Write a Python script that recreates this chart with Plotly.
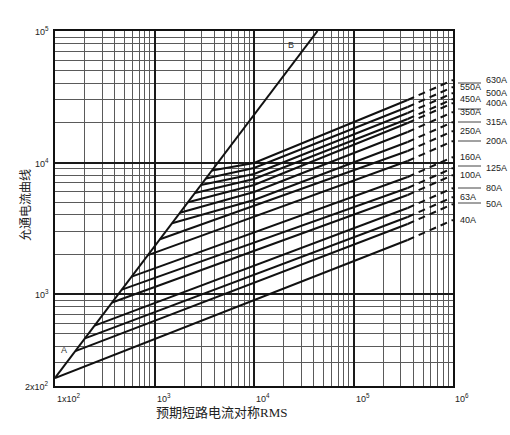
import numpy as np
import plotly.graph_objects as go

# ---------------- data ----------------
ratings = ["40A", "50A", "63A", "80A", "100A", "125A", "160A", "200A",
           "250A", "315A", "350A", "400A", "450A", "500A", "550A", "630A"]
# start point of each fuse curve on line A-B (prospective current, let-through peak)
start_x = [100, 160, 200, 250, 375, 470, 590, 860,
           1135, 1500, 1800, 2170, 2550, 2930, 3290, 3780]
start_y = [230, 368, 460, 575, 862, 1081, 1357, 1978,
           2610, 3450, 4147, 4996, 5872, 6741, 7574, 8700]
# let-through value read at 10 kA for the larger ratings (knee); None = straight
knee_x = 10000
knee_y = [None, None, None, None, None, None, None, None,
          None, 5185, 5967, 6745, 7490, 8177, 9083, 9910]
# end of solid part
solid_end_x = 350000
solid_end_y = [2577, 3408, 3856, 4511, 5665, 6404, 7762, 10272,
               12239, 14326, 17068, 19987, 21432, 23815, 26452, 29899]
# end of dashed extrapolation
dash_end_x = 1000000
dash_end_y = [3655, 4834, 5470, 6398, 8035, 9083, 11010, 14570,
              17360, 20320, 24210, 28350, 30400, 33780, 37520, 42410]

# line A-B (unlimited peak)
line_ab_x = [100, 43500]
line_ab_y = [230, 100000]

x_major = [100, 1000, 10000, 100000, 1000000]
x_major_text = ["1x10<sup>2</sup>", "10<sup>3</sup>", "10<sup>4</sup>", "10<sup>5</sup>", "10<sup>6</sup>"]
y_major = [200, 1000, 10000, 100000]
y_major_text = ["2x10<sup>2</sup>", "10<sup>3</sup>", "10<sup>4</sup>", "10<sup>5</sup>"]

# label layout at right: (rating, pixel y)
left_col = [("550A", 87), ("450A", 99), ("350A", 112), ("250A", 131),
            ("160A", 157), ("100A", 175), ("63A", 197), ("40A", 220)]
right_col = [("630A", 80), ("500A", 93), ("400A", 103), ("315A", 122),
             ("200A", 141), ("125A", 168), ("80A", 188), ("50A", 204)]
leader_y = [83, 109, 122, 141, 166, 188, 203]

# ---------------- figure ----------------
L, R, T, B = 55, 453, 31, 386
W, H = 510, 435
pw, ph = R - L, B - T

def px(xp):
    return (xp - L) / pw

def py(yp):
    return (B - yp) / ph

fig = go.Figure()

LINE = dict(color="#111111", width=2)
for i, r in enumerate(ratings):
    xs = [start_x[i]] + ([knee_x] if knee_y[i] else []) + [solid_end_x]
    ys = [start_y[i]] + ([knee_y[i]] if knee_y[i] else []) + [solid_end_y[i]]
    fig.add_trace(go.Scatter(x=xs, y=ys, mode="lines", line=LINE, showlegend=False, name=r))
    fig.add_trace(go.Scatter(x=[solid_end_x, dash_end_x], y=[solid_end_y[i], dash_end_y[i]],
                             mode="lines", line=dict(color="#111111", width=2, dash="7px,5px"),
                             showlegend=False, name=r))

fig.add_trace(go.Scatter(x=line_ab_x, y=line_ab_y, mode="lines", line=LINE, showlegend=False))

x_minor = [m * 10 ** d for d in range(2, 6) for m in range(2, 10)]
y_minor = [m * 10 ** d for d in range(2, 5) for m in range(1, 10) if m * 10 ** d > 200]

axis_common = dict(showline=True, linecolor="#111111", linewidth=1.5, mirror=True,
                   showgrid=True, gridcolor="#1a1a1a", gridwidth=1.6,
                   ticks="", showticklabels=False, zeroline=False)

fig.update_xaxes(type="log", range=[2, 6], tickmode="array", tickvals=x_major,
                 minor=dict(tickmode="array", tickvals=x_minor, showgrid=True,
                            gridcolor="#5a5a5a", gridwidth=1, ticks=""),
                 **axis_common)
fig.update_yaxes(type="log", range=[np.log10(200), 5], tickmode="array", tickvals=y_major,
                 minor=dict(tickmode="array", tickvals=y_minor, showgrid=True,
                            gridcolor="#5a5a5a", gridwidth=1, ticks=""),
                 **axis_common)

TF = dict(family="Liberation Sans, Arial", size=9, color="#222222")
ann = []
for v, t in zip(x_major, x_major_text):
    ann.append(dict(x=np.log10(v), xref="x", y=py(398), yref="paper", text=t,
                    showarrow=False, xanchor="left", yanchor="middle", font=TF))
for v, t in zip(y_major, y_major_text):
    ann.append(dict(x=px(51), xref="paper", y=np.log10(v), yref="y", text=t,
                    showarrow=False, xanchor="right", yanchor="middle", font=TF))

LF = dict(family="Liberation Sans, Arial", size=9, color="#222222")
for t, yy in left_col:
    ann.append(dict(x=px(458), xref="paper", y=py(yy), yref="paper", text=t,
                    showarrow=False, xanchor="left", yanchor="middle", font=LF))
for t, yy in right_col:
    ann.append(dict(x=px(484), xref="paper", y=py(yy), yref="paper", text=t,
                    showarrow=False, xanchor="left", yanchor="middle", font=LF))

ann.append(dict(x=px(64), xref="paper", y=py(350), yref="paper", text="A",
                showarrow=False, xanchor="center", yanchor="middle",
                font=dict(family="Liberation Sans", size=9, color="#333")))
ann.append(dict(x=px(291), xref="paper", y=py(45), yref="paper", text="B",
                showarrow=False, xanchor="center", yanchor="middle",
                font=dict(family="Liberation Sans", size=9, color="#333")))

ann.append(dict(x=px(221), xref="paper", y=py(413), yref="paper", text="预期短路电流对称RMS",
                showarrow=False, xanchor="center", yanchor="middle",
                font=dict(family="Liberation Serif, Noto Sans CJK SC", size=13, color="#222")))
ann.append(dict(x=px(24), xref="paper", y=py(205), yref="paper", text="允通电流曲线",
                showarrow=False, textangle=-90, xanchor="center", yanchor="middle",
                font=dict(family="Noto Sans CJK SC", size=12, color="#222")))

shapes = []
for yy in leader_y:
    shapes.append(dict(type="line", xref="paper", yref="paper", x0=px(458), x1=px(481),
                       y0=py(yy), y1=py(yy), line=dict(color="#444", width=1)))

fig.update_layout(width=W, height=H, margin=dict(l=L, r=W - R, t=T, b=H - B),
                  paper_bgcolor="white", plot_bgcolor="white",
                  annotations=ann, shapes=shapes, showlegend=False)

fig.write_html("out.html", config={"displayModeBar": False},
               post_script="document.body.style.margin='0px';document.body.style.overflow='hidden';")
